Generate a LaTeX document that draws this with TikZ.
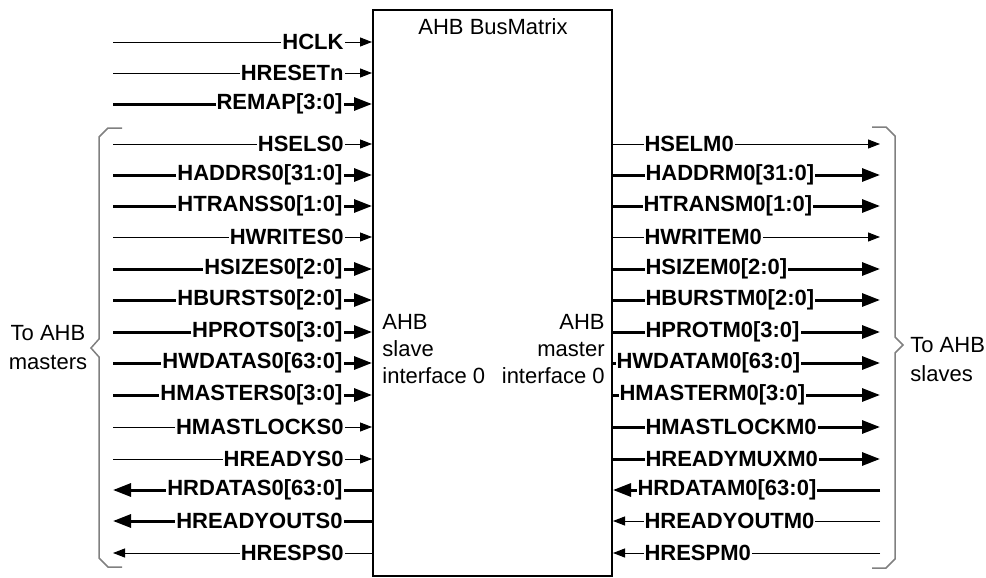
\documentclass[tikz,border=0pt]{standalone}
\usepackage{fontspec}
\setmainfont{Liberation Sans}
\usetikzlibrary{arrows.meta}

\begin{document}
\begin{tikzpicture}[x=0.5pt, y=-0.5pt,
    font=\fontsize{11}{13.5}\selectfont,
    wire/.style={line width=0.5pt, -{Triangle[length=6pt,width=4.5pt]}},
    bus/.style={line width=1.5pt, -{Triangle[length=9pt,width=6.5pt]}},
    sig/.style={font=\fontsize{11}{13.5}\selectfont\bfseries, fill=white, inner xsep=0.5pt, inner ysep=1pt},
    brace/.style={gray, line width=0.75pt}
]

\useasboundingbox (0,0) rectangle (986,578);

% BusMatrix block
\node[draw, line width=1pt, minimum width=119.5pt, minimum height=283pt, inner sep=0pt] (bm) at (492.5,293) {};
\node (title) at (493,27) {AHB BusMatrix};
\node[anchor=west, align=left, inner sep=0pt] (slv) at (382,349) {AHB\\slave\\interface 0};
\node[anchor=east, align=right, inner sep=0pt] (mst) at (605,349) {AHB\\master\\interface 0};

% Global inputs
\draw[wire] (113,42) coordinate (hclk-end) -- (hclk-end -| bm.west) node[sig, anchor=east] (hclk) at (345,42) {HCLK};
\draw[wire] (113,73) coordinate (hresetn-end) -- (hresetn-end -| bm.west) node[sig, anchor=east] (hresetn) at (345,73) {HRESETn};
\draw[bus] (113,104) coordinate (remap-end) -- (remap-end -| bm.west) node[sig, anchor=east] (remap) at (345,104) {REMAP[3:0]};

% Slave interface 0, inputs
\draw[wire] (113,144) coordinate (hsels-end) -- (hsels-end -| bm.west) node[sig, anchor=east] (hsels) at (345,144) {HSELS0};
\draw[bus] (113,175) coordinate (haddrs-end) -- (haddrs-end -| bm.west) node[sig, anchor=east] (haddrs) at (345,175) {HADDRS0[31:0]};
\draw[bus] (113,206) coordinate (htranss-end) -- (htranss-end -| bm.west) node[sig, anchor=east] (htranss) at (345,206) {HTRANSS0[1:0]};
\draw[wire] (113,237) coordinate (hwrites-end) -- (hwrites-end -| bm.west) node[sig, anchor=east] (hwrites) at (345,237) {HWRITES0};
\draw[bus] (113,269) coordinate (hsizes-end) -- (hsizes-end -| bm.west) node[sig, anchor=east] (hsizes) at (345,269) {HSIZES0[2:0]};
\draw[bus] (113,300) coordinate (hbursts-end) -- (hbursts-end -| bm.west) node[sig, anchor=east] (hbursts) at (345,300) {HBURSTS0[2:0]};
\draw[bus] (113,332) coordinate (hprots-end) -- (hprots-end -| bm.west) node[sig, anchor=east] (hprots) at (345,332) {HPROTS0[3:0]};
\draw[bus] (113,363) coordinate (hwdatas-end) -- (hwdatas-end -| bm.west) node[sig, anchor=east] (hwdatas) at (345,363) {HWDATAS0[63:0]};
\draw[bus] (113,395) coordinate (hmasters-end) -- (hmasters-end -| bm.west) node[sig, anchor=east] (hmasters) at (345,395) {HMASTERS0[3:0]};
\draw[wire] (113,427) coordinate (hmastlocks-end) -- (hmastlocks-end -| bm.west) node[sig, anchor=east] (hmastlocks) at (345,427) {HMASTLOCKS0};
\draw[wire] (113,459) coordinate (hreadys-end) -- (hreadys-end -| bm.west) node[sig, anchor=east] (hreadys) at (345,459) {HREADYS0};

% Slave interface 0, outputs
\draw[bus] (bm.west |- 0,490) -- (113,490) coordinate (hrdatas-end) node[sig, anchor=east] (hrdatas) at (345,490) {HRDATAS0[63:0]};
\draw[bus] (bm.west |- 0,521) -- (113,521) coordinate (hreadyouts-end) node[sig, anchor=east] (hreadyouts) at (345,521) {HREADYOUTS0};
\draw[wire] (bm.west |- 0,553) -- (113,553) coordinate (hresps-end) node[sig, anchor=east] (hresps) at (345,553) {HRESPS0};

% Master interface 0, outputs
\draw[wire] (bm.east |- 0,144) -- (880,144) coordinate (hselm-end) node[sig, anchor=west] (hselm) at (643,144) {HSELM0};
\draw[bus] (bm.east |- 0,175) -- (880,175) coordinate (haddrm-end) node[sig, anchor=west] (haddrm) at (643,175) {HADDRM0[31:0]};
\draw[bus] (bm.east |- 0,206) -- (880,206) coordinate (htransm-end) node[sig, anchor=west] (htransm) at (641,206) {HTRANSM0[1:0]};
\draw[wire] (bm.east |- 0,237) -- (880,237) coordinate (hwritem-end) node[sig, anchor=west] (hwritem) at (643,237) {HWRITEM0};
\draw[bus] (bm.east |- 0,269) -- (880,269) coordinate (hsizem-end) node[sig, anchor=west] (hsizem) at (643,269) {HSIZEM0[2:0]};
\draw[bus] (bm.east |- 0,300) -- (880,300) coordinate (hburstm-end) node[sig, anchor=west] (hburstm) at (643,300) {HBURSTM0[2:0]};
\draw[bus] (bm.east |- 0,332) -- (880,332) coordinate (hprotm-end) node[sig, anchor=west] (hprotm) at (643,332) {HPROTM0[3:0]};
\draw[bus] (bm.east |- 0,363) -- (880,363) coordinate (hwdatam-end) node[sig, anchor=west] (hwdatam) at (614,363) {HWDATAM0[63:0]};
\draw[bus] (bm.east |- 0,395) -- (880,395) coordinate (hmasterm-end) node[sig, anchor=west] (hmasterm) at (617,395) {HMASTERM0[3:0]};
\draw[bus] (bm.east |- 0,427) -- (880,427) coordinate (hmastlockm-end) node[sig, anchor=west] (hmastlockm) at (643,427) {HMASTLOCKM0};
\draw[bus] (bm.east |- 0,459) -- (880,459) coordinate (hreadymuxm-end) node[sig, anchor=west] (hreadymuxm) at (643,459) {HREADYMUXM0};

% Master interface 0, inputs
\draw[bus] (880,490) coordinate (hrdatam-end) -- (hrdatam-end -| bm.east) node[sig, anchor=west] (hrdatam) at (635,490) {HRDATAM0[63:0]};
\draw[wire] (880,521) coordinate (hreadyoutm-end) -- (hreadyoutm-end -| bm.east) node[sig, anchor=west] (hreadyoutm) at (643,521) {HREADYOUTM0};
\draw[wire] (880,553) coordinate (hrespm-end) -- (hrespm-end -| bm.east) node[sig, anchor=west] (hrespm) at (643,553) {HRESPM0};

% Braces
\draw[brace] (122,128) -- (108,128) -- (99,137) -- (99,339) -- (91,348) -- (99,357) -- (99,558) -- (108,567) -- (122,567);
\draw[brace] (872,127) -- (886,127) -- (895,136) -- (895,337) -- (903,345) -- (895,353) -- (895,559) -- (886,568) -- (872,568);

\node[align=center, font=\fontsize{11}{14.5}\selectfont] (masters) at (48,348) {To AHB\\masters};
\node[anchor=west, align=left, inner sep=0pt, font=\fontsize{11}{14.5}\selectfont] (slaves) at (910,360) {To AHB\\slaves};

\end{tikzpicture}
\end{document}
